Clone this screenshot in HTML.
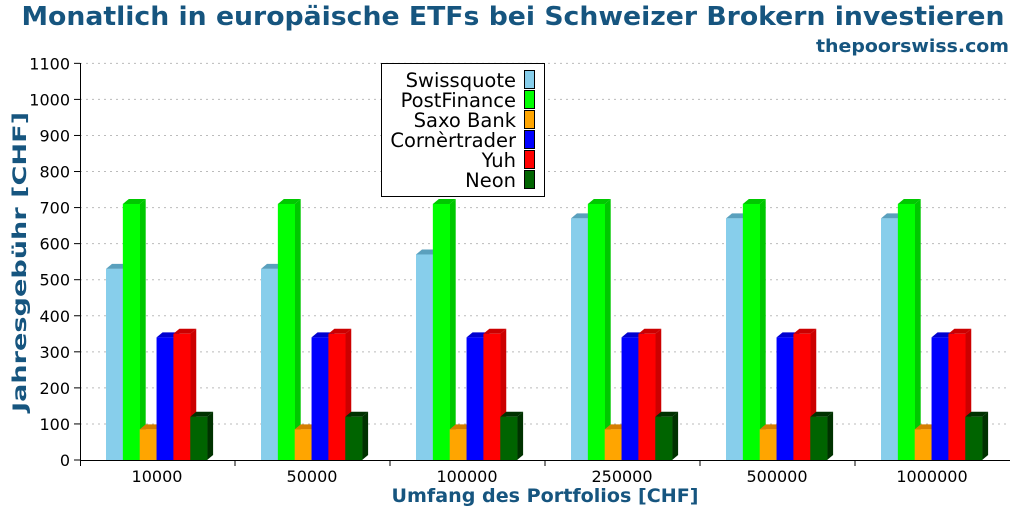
<!DOCTYPE html>
<html><head><meta charset="utf-8"><style>body{margin:0;background:#fff}svg{display:block}text{font-family:"DejaVu Sans","Liberation Sans",sans-serif}</style></head>
<body>
<svg id="s" width="1024" height="512" xmlns="http://www.w3.org/2000/svg">
<text x="513" y="25" text-anchor="middle" font-size="26" font-weight="bold" fill="#16557f" textLength="983" lengthAdjust="spacingAndGlyphs">Monatlich in europäische ETFs bei Schweizer Brokern investieren</text>
<text x="1009" y="52" text-anchor="end" font-size="18" font-weight="bold" fill="#16557f" textLength="193" lengthAdjust="spacingAndGlyphs">thepoorswiss.com</text>
<g id="g"></g>
<text x="545" y="502" text-anchor="middle" font-size="19" font-weight="bold" fill="#16557f" textLength="307" lengthAdjust="spacingAndGlyphs">Umfang des Portfolios [CHF]</text>
<text transform="translate(26,262) rotate(-90)" text-anchor="middle" font-size="18.5" font-weight="bold" fill="#16557f" textLength="300" lengthAdjust="spacingAndGlyphs">Jahresgebühr [CHF]</text>
</svg>
<script>
var g=document.getElementById('g'),h='';
var y0=460,k=0.3606;
for(var v=0;v<=1100;v+=100){var y=y0-v*k;
 if(v>0)h+='<line x1="80" x2="1010" y1="'+y+'" y2="'+y+'" stroke="#bbb" stroke-dasharray="2,4"/>';
 h+='<line x1="74" x2="80" y1="'+y+'" y2="'+y+'" stroke="#000"/>';
 h+='<text x="70" y="'+(y+6)+'" text-anchor="end" font-size="16">'+v+'</text>';}
var cols=[['#87ceeb','#5aa0bd'],['#00ff00','#00c800'],['#ffa500','#d67e00'],['#0000ff','#0000d0'],['#ff0000','#cc0000'],['#006400','#003200']];
var data=[[530,530,570,670,670,670],[710,710,710,710,710,710],[85,85,85,85,85,85],[340,340,340,340,340,340],[350,350,350,350,350,350],[120,120,120,120,120,120]];
var labs=['10000','50000','100000','250000','500000','1000000'];
for(var i=0;i<6;i++){var gx=106+155*i;
 for(var j=0;j<6;j++){var x=gx+j*16.85,w=16.85,t=y0-data[j][i]*k,dx=6,dy=5;
  h+='<polygon points="'+x+','+t+' '+(x+dx)+','+(t-dy)+' '+(x+w+dx)+','+(t-dy)+' '+(x+w)+','+t+'" fill="'+cols[j][1]+'"/>';
  h+='<polygon points="'+(x+w)+','+t+' '+(x+w+dx)+','+(t-dy)+' '+(x+w+dx)+','+(y0-dy)+' '+(x+w)+','+y0+'" fill="'+cols[j][1]+'"/>';
  h+='<rect x="'+x+'" y="'+t+'" width="'+(w+0.3)+'" height="'+(y0-t)+'" fill="'+cols[j][0]+'"/>';}
 h+='<text x="'+(157+155*i)+'" y="482" text-anchor="middle" font-size="16">'+labs[i]+'</text>';
 if(i>0)h+='<line x1="'+(80+155*i)+'" x2="'+(80+155*i)+'" y1="460" y2="466" stroke="#000"/>';}
h+='<line x1="80" x2="1010" y1="460.5" y2="460.5" stroke="#000"/><line x1="80.5" x2="80.5" y1="63" y2="466" stroke="#000"/>';
h+='<rect x="381.5" y="63.5" width="163" height="133" fill="#fff" stroke="#000"/>';
var names=['Swissquote','PostFinance','Saxo Bank','Cornèrtrader','Yuh','Neon'];
for(var j=0;j<6;j++){var cy=80+20*j;
 h+='<text x="516" y="'+(cy+7)+'" text-anchor="end" font-size="19.5">'+names[j]+'</text>';
 h+='<rect x="524.5" y="'+(cy-9.5)+'" width="10" height="18" fill="'+cols[j][0]+'" stroke="#000"/>';}
g.innerHTML=h;
</script>
</body></html>
